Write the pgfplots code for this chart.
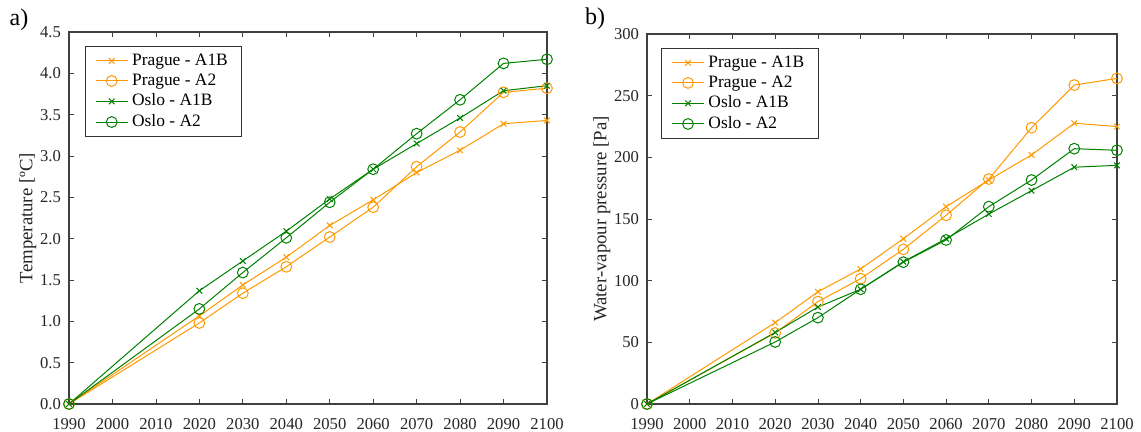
\documentclass[border=0pt]{standalone}
\usepackage{fontspec}
\setmainfont{Liberation Serif}
\usepackage{pgfplots}
\pgfplotsset{compat=1.18}
\definecolor{cor}{RGB}{255,153,0}
\definecolor{cgr}{RGB}{0,128,0}
\pgfplotsset{
  myax/.style={
    scale only axis,
    xmin=1990, xmax=2100,
    xtick={1990,2000,...,2100},
    tick align=inside,
    major tick length=2.5pt,
    /pgf/number format/assume math mode=true,
    xticklabel style={/pgf/number format/1000 sep={}, yshift=-3.5pt},
    yticklabel style={xshift=-0.5pt},
    tick label style={font=\fontsize{8.3}{10}\selectfont, text=black!85},
    label style={font=\fontsize{9.4}{11}\selectfont, text=black!85},
    axis line style={line width=0.6pt, black!75},
    every tick/.style={black!75, line width=0.4pt},
    legend style={font=\fontsize{8.7}{10.5}\selectfont, draw=black!80, line width=0.5pt,
      row sep=-1.2pt, inner xsep=5pt, inner ysep=1.5pt, cells={anchor=west}},
    legend cell align=left,
    legend image code/.code={
      \draw[mark repeat=2,mark phase=2] plot coordinates {(0cm,0cm) (0.28cm,0cm) (0.56cm,0cm)};
    },
    clip=false,
  },
  pa1b/.style={cor, line width=0.5pt, mark=x, mark size=2pt, mark options={line width=0.5pt}},
  pa2/.style={cor, line width=0.5pt, mark=o, mark size=2.7pt, mark options={line width=0.5pt, fill=white}},
  oa1b/.style={cgr, line width=0.5pt, mark=x, mark size=2pt, mark options={line width=0.5pt}},
  oa2/.style={cgr, line width=0.5pt, mark=o, mark size=2.7pt, mark options={line width=0.5pt, fill=white}},
}
\begin{document}
\begin{tikzpicture}
\begin{axis}[myax,
  width=239pt, height=186pt,
  ymin=0, ymax=4.5, ytick={0,0.5,...,4.5},
  yticklabel style={/pgf/number format/fixed, /pgf/number format/fixed zerofill, /pgf/number format/precision=1},
  ylabel={Temperature [ºC]},
  ylabel style={yshift=-5pt},
  legend style={at={(0.033,0.962)}, anchor=north west},
]
\addplot[pa1b] coordinates {(1990,0) (2020,1.065) (2030,1.44) (2040,1.776) (2050,2.16) (2060,2.47) (2070,2.80) (2080,3.07) (2090,3.39) (2100,3.43)};
\addplot[pa2] coordinates {(1990,0) (2020,0.98) (2030,1.34) (2040,1.66) (2050,2.02) (2060,2.38) (2070,2.87) (2080,3.29) (2090,3.77) (2100,3.82)};
\addplot[oa1b] coordinates {(1990,0) (2020,1.37) (2030,1.73) (2040,2.09) (2050,2.48) (2060,2.84) (2070,3.15) (2080,3.46) (2090,3.79) (2100,3.85)};
\addplot[oa2] coordinates {(1990,0) (2020,1.15) (2030,1.59) (2040,2.01) (2050,2.44) (2060,2.84) (2070,3.27) (2080,3.68) (2090,4.12) (2100,4.17)};
\legend{Prague - A1B, Prague - A2, Oslo - A1B, Oslo - A2}
\node[anchor=center, font=\fontsize{12}{13}\selectfont] at ([xshift=-25pt,yshift=6pt]rel axis cs:0,1) {a)};
\end{axis}
\begin{axis}[myax, xshift=289pt,
  width=235pt, height=185pt,
  ymin=0, ymax=300, ytick={0,50,...,300},
  ylabel={Water-vapour pressure [Pa]},
  ylabel style={yshift=-5pt},
  legend style={at={(0.03,0.962)}, anchor=north west},
]
\addplot[pa1b] coordinates {(1990,0) (2020,66) (2030,91) (2040,109.5) (2050,134) (2060,160) (2070,181.6) (2080,202) (2090,227.6) (2100,225)};
\addplot[pa2] coordinates {(1990,0) (2020,57.6) (2030,83) (2040,101.6) (2050,125.4) (2060,153) (2070,182.4) (2080,224) (2090,258.6) (2100,264)};
\addplot[oa1b] coordinates {(1990,0) (2020,58) (2030,78.6) (2040,93) (2050,115.4) (2060,134) (2070,154) (2080,173) (2090,192) (2100,193.5)};
\addplot[oa2] coordinates {(1990,0) (2020,50.3) (2030,70) (2040,93) (2050,115) (2060,133) (2070,160) (2080,181.6) (2090,207) (2100,205.7)};
\legend{Prague - A1B, Prague - A2, Oslo - A1B, Oslo - A2}
\node[anchor=center, font=\fontsize{12}{13}\selectfont] at ([xshift=-26pt,yshift=7.5pt]rel axis cs:0,1) {b)};
\end{axis}
\pgfresetboundingbox
\path[use as bounding box] (-34.5pt,-14pt) rectangle (536pt,202pt);
\end{tikzpicture}
\end{document}
